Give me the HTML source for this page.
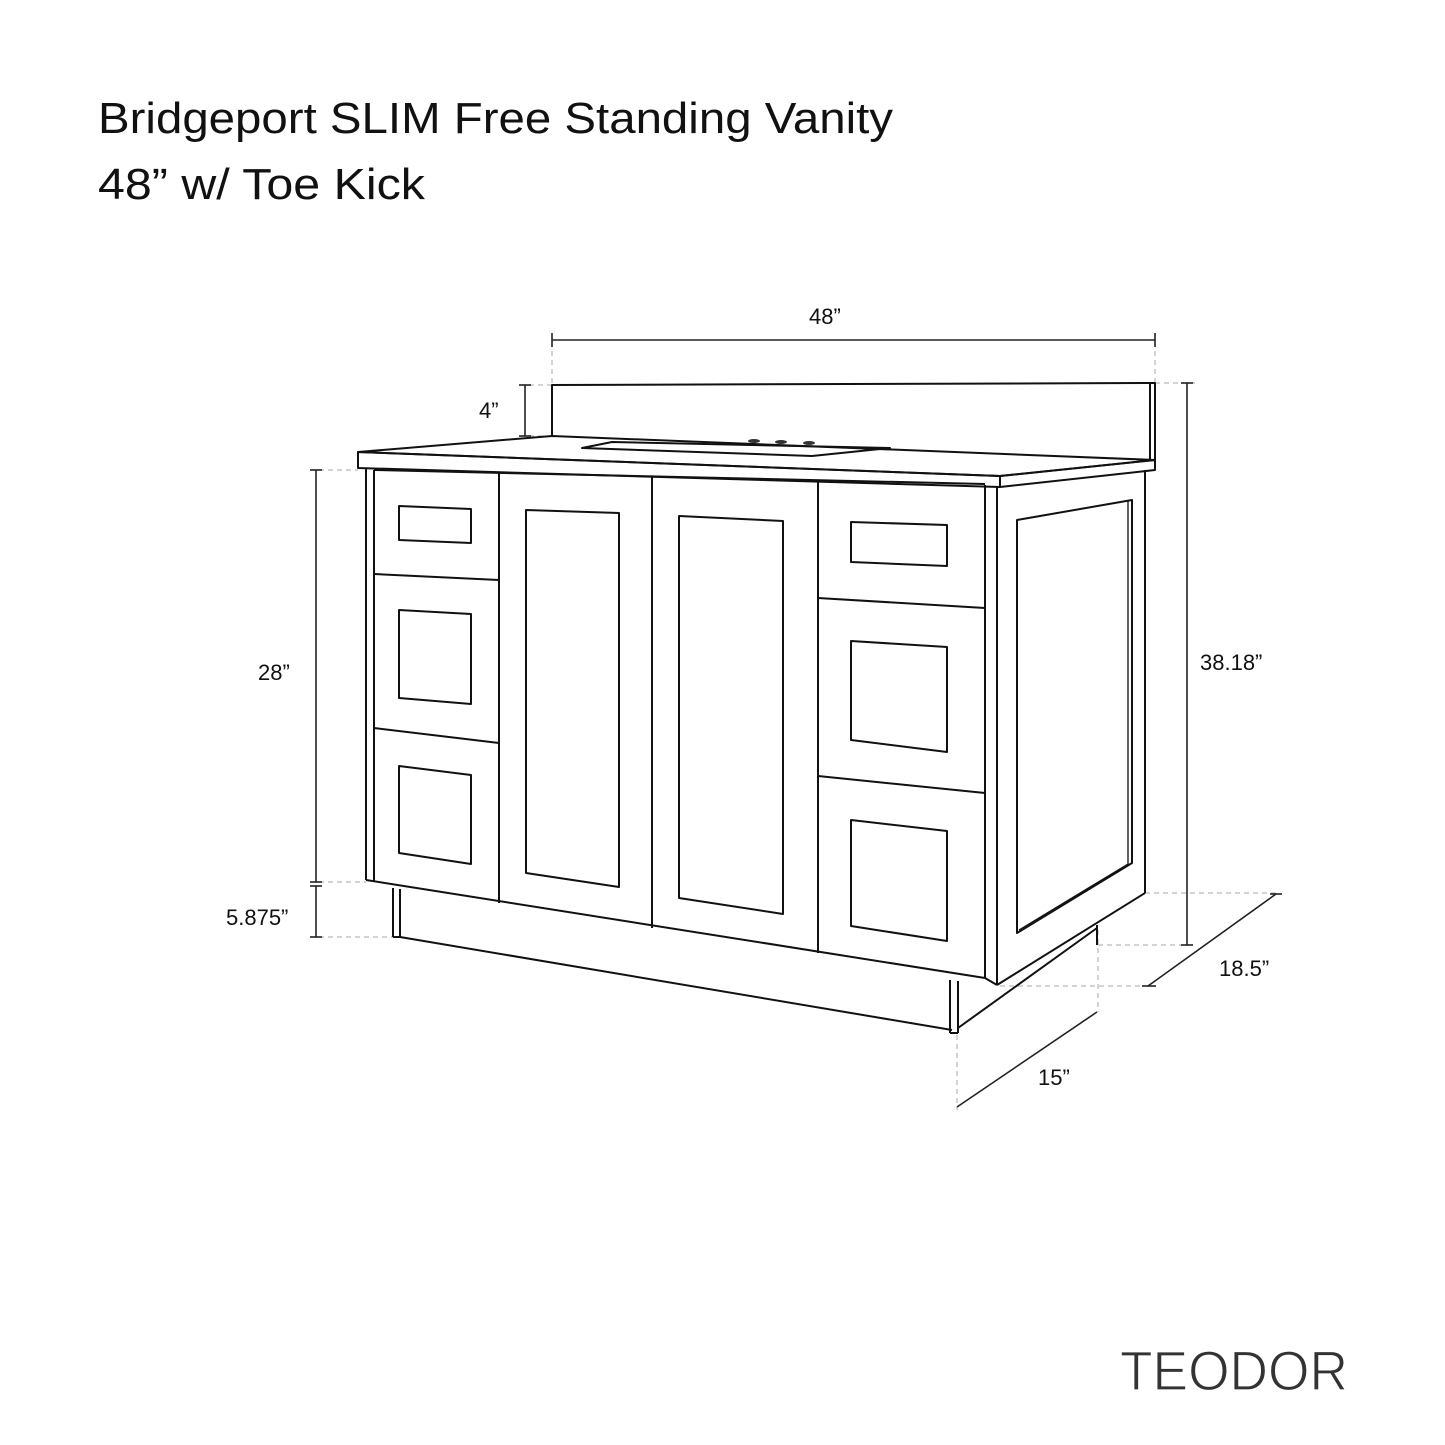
<!DOCTYPE html>
<html><head><meta charset="utf-8"><style>
html,body{margin:0;padding:0;background:#fff}
svg{display:block}
text{font-family:"Liberation Sans",sans-serif;fill:#111}
</style></head><body>
<svg width="1445" height="1445" viewBox="0 0 1445 1445" xmlns="http://www.w3.org/2000/svg">
<text x="98" y="133" font-size="44" textLength="795" lengthAdjust="spacingAndGlyphs">Bridgeport SLIM Free Standing Vanity</text>
<text x="98" y="199" font-size="44" textLength="327" lengthAdjust="spacingAndGlyphs">48” w/ Toe Kick</text>
<text x="1120" y="1390" font-size="56" font-weight="300" fill="#333" style="fill:#333" textLength="228" lengthAdjust="spacingAndGlyphs" stroke="#fff" stroke-width="1.2">TEODOR</text>

<g stroke="#aaa" stroke-width="1" stroke-dasharray="5,4" fill="none">
<line x1="552" y1="333" x2="552" y2="385"/>
<line x1="1155" y1="333" x2="1155" y2="383"/>
<line x1="520" y1="385" x2="552" y2="385"/>
<line x1="520" y1="436" x2="552" y2="436"/>
<line x1="1155" y1="383" x2="1195" y2="383"/>
<line x1="310" y1="470" x2="358" y2="470"/>
<line x1="310" y1="882" x2="366" y2="882"/>
<line x1="310" y1="937" x2="395" y2="937"/>
<line x1="1145" y1="893" x2="1280" y2="893"/>
<line x1="1000" y1="986" x2="1150" y2="986"/>
<line x1="1098" y1="945" x2="1195" y2="945"/>
<line x1="1098" y1="930" x2="1098" y2="1012"/>
<line x1="957" y1="1035" x2="957" y2="1110"/>
</g>

<g stroke="#222" stroke-width="1.6" fill="none">
<!-- dimension lines -->
<line x1="552" y1="340" x2="1155" y2="340"/>
<line x1="552" y1="333" x2="552" y2="347"/>
<line x1="1155" y1="333" x2="1155" y2="347"/>
<line x1="525" y1="385" x2="525" y2="436"/>
<line x1="519" y1="385" x2="531" y2="385"/>
<line x1="519" y1="436" x2="531" y2="436"/>
<line x1="316" y1="470" x2="316" y2="882"/>
<line x1="310" y1="470" x2="322" y2="470"/>
<line x1="310" y1="882" x2="322" y2="882"/>
<line x1="316" y1="886" x2="316" y2="937"/>
<line x1="310" y1="886" x2="322" y2="886"/>
<line x1="310" y1="937" x2="322" y2="937"/>
<line x1="1187" y1="383" x2="1187" y2="945"/>
<line x1="1181" y1="383" x2="1193" y2="383"/>
<line x1="1181" y1="945" x2="1193" y2="945"/>
<line x1="1148" y1="986" x2="1276" y2="894"/>
<line x1="1142" y1="986" x2="1156" y2="986"/>
<line x1="1270" y1="894" x2="1282" y2="894"/>
<line x1="957" y1="1107" x2="1097" y2="1012"/>
</g>
<g font-size="22">
<text x="809" y="324">48”</text>
<text x="479" y="418">4”</text>
<text x="258" y="680">28”</text>
<text x="226" y="925">5.875”</text>
<text x="1200" y="670">38.18”</text>
<text x="1219" y="976">18.5”</text>
<text x="1038" y="1085">15”</text>
</g>

<g stroke="#111" stroke-width="2" fill="none" stroke-linejoin="round">
<!-- backsplash -->
<polyline points="552,436 552,385 1155,383 1155,460"/>
<line x1="1150" y1="384" x2="1150" y2="460"/>
<!-- countertop -->
<polygon points="358,452 552,436 1155,460 1000,476"/>
<polygon points="358,452 1000,476 1000,487 358,468" />
<polygon points="1000,476 1155,460 1155,470 1000,487"/>
<!-- sink -->
<polygon points="582,448 612,442 890,448 812,456"/>
<!-- cabinet front outline -->
<line x1="366" y1="468" x2="366" y2="880"/>
<line x1="374" y1="470" x2="374" y2="882"/>
<line x1="366" y1="880" x2="985" y2="978"/>
<line x1="499" y1="473" x2="499" y2="903"/>
<line x1="652" y1="476" x2="652" y2="928"/>
<line x1="818" y1="480" x2="818" y2="953"/>
<line x1="985" y1="485" x2="985" y2="978"/>
<line x1="997" y1="487" x2="997" y2="985"/>
<line x1="374" y1="470" x2="985" y2="484"/>
<!-- side -->
<line x1="1145" y1="470" x2="1145" y2="893"/>
<line x1="997" y1="985" x2="1145" y2="893"/>
<line x1="985" y1="978" x2="997" y2="985"/>
<polygon points="1017,520 1132,500 1132,863 1017,933"/>
<polyline points="1128,501 1128,864 1019,930" stroke-width="1.3"/>
<!-- drawer separators -->
<line x1="374" y1="574" x2="499" y2="580"/>
<line x1="374" y1="728" x2="499" y2="743"/>
<line x1="818" y1="598" x2="985" y2="608"/>
<line x1="818" y1="776" x2="985" y2="793"/>
<!-- insets col1 -->
<polygon points="399,506 471,509 471,543 399,540"/>
<polygon points="399,610 471,614 471,704 399,698"/>
<polygon points="399,766 471,775 471,864 399,853"/>
<!-- doors -->
<polygon points="526,510 619,513 619,887 526,873"/>
<polygon points="679,516 783,521 783,914 679,898"/>
<!-- insets col4 -->
<polygon points="851,522 947,525 947,566 851,562"/>
<polygon points="851,641 947,647 947,752 851,740"/>
<polygon points="851,820 947,831 947,941 851,926"/>
<!-- toe kick -->
<line x1="393" y1="888" x2="393" y2="937"/>
<line x1="400" y1="889" x2="400" y2="937"/>
<line x1="393" y1="937" x2="400" y2="937"/>
<line x1="400" y1="937" x2="952" y2="1030"/>
<line x1="950" y1="980" x2="950" y2="1033"/>
<line x1="958" y1="981" x2="958" y2="1033"/>
<line x1="950" y1="1033" x2="958" y2="1033"/>
<line x1="958" y1="1028" x2="1097" y2="928"/>
<line x1="1097" y1="925" x2="1097" y2="945"/>
</g>
<g fill="#333">
<ellipse cx="754" cy="441" rx="6" ry="2"/>
<ellipse cx="781" cy="442" rx="6" ry="2"/>
<ellipse cx="809" cy="443" rx="6" ry="2"/>
</g>
</svg>
</body></html>
